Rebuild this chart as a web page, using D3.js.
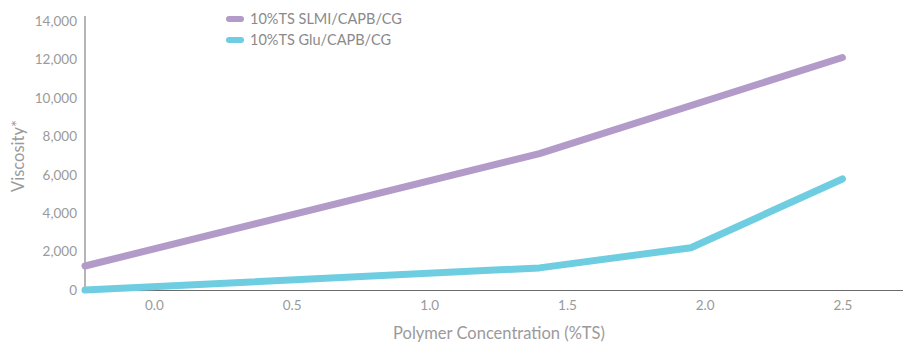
<!DOCTYPE html>
<html>
<head>
<meta charset="utf-8">
<script src="https://cdn.jsdelivr.net/npm/d3@7"></script>
<style>
  html, body { margin: 0; padding: 0; background: #fff; }
  svg { display: block; font-family: Lato, "Open Sans", sans-serif; }
</style>
</head>
<body>
<svg id="chart" width="903" height="344"></svg>
<script>
// Polymer concentration (%TS) at each measured point
const concSLMI = [-0.25, 1.4, 2.5];
const viscSLMI = [1250, 7100, 12100];
const concGlu = [-0.25, 1.4, 1.95, 2.5];
const viscGlu = [0, 1150, 2200, 5780];

const seriesNames = ["10%TS SLMI/CAPB/CG", "10%TS Glu/CAPB/CG"];
const seriesColors = ["#b39bc9", "#6ecde0"];
const xTicks = [0.0, 0.5, 1.0, 1.5, 2.0, 2.5];
const yTicks = [0, 2000, 4000, 6000, 8000, 10000, 12000, 14000];

const svg = d3.select("#chart");
const plotLeft = 85, plotRight = 903, plotTop = 21, plotBottom = 290;

const x = d3.scaleLinear().domain([-0.25, 2.72]).range([plotLeft, plotRight]);
const y = d3.scaleLinear().domain([0, 14000]).range([plotBottom, plotTop]);

const axisColor = "#6b6b6b";
const textColor = "#9a9a9a";

// axes
const xAxis = svg.append("g")
  .attr("transform", `translate(0,${plotBottom})`)
  .call(d3.axisBottom(x).tickValues(xTicks).tickSize(0).tickPadding(10)
    .tickFormat(d3.format(".1f")));
xAxis.select(".domain").attr("stroke", axisColor).attr("stroke-width", 1);

const yAxis = svg.append("g")
  .attr("transform", `translate(${plotLeft},0)`)
  .call(d3.axisLeft(y).tickValues(yTicks).tickSize(0).tickPadding(8)
    .tickFormat(d3.format(",")));
yAxis.select(".domain").attr("stroke", axisColor).attr("stroke-width", 1)
  .attr("d", `M0,${plotBottom}V${plotTop - 5}`);

svg.selectAll(".tick text")
  .attr("fill", textColor)
  .style("font-size", "13.5px")
  .style("font-family", "Lato, 'Open Sans', sans-serif");

// axis titles
svg.append("text")
  .attr("x", 499).attr("y", 339)
  .attr("text-anchor", "middle")
  .attr("fill", textColor)
  .style("font-size", "16.5px")
  .text("Polymer Concentration (%TS)");

svg.append("text")
  .attr("transform", "translate(24,156) rotate(-90)")
  .attr("text-anchor", "middle")
  .attr("fill", textColor)
  .style("font-size", "16.5px")
  .text("Viscosity*");

// series lines
const line = d3.line()
  .x(d => x(d[0]))
  .y(d => y(d[1]));

const series = [
  d3.zip(concSLMI, viscSLMI),
  d3.zip(concGlu, viscGlu)
];

svg.selectAll("path.series")
  .data(series)
  .join("path")
  .attr("class", "series")
  .attr("d", line)
  .attr("fill", "none")
  .attr("stroke", (d, i) => seriesColors[i])
  .attr("stroke-width", 7)
  .attr("stroke-linecap", "round")
  .attr("stroke-linejoin", "round");

// legend
const legend = svg.append("g").attr("transform", "translate(229,19)");
seriesNames.forEach((name, i) => {
  const g = legend.append("g").attr("transform", `translate(0,${i * 21})`);
  g.append("line")
    .attr("x1", 0).attr("x2", 12).attr("y1", 0).attr("y2", 0)
    .attr("stroke", seriesColors[i])
    .attr("stroke-width", 6)
    .attr("stroke-linecap", "round");
  g.append("text")
    .attr("x", 21).attr("y", 5)
    .attr("fill", "#8a8a8a")
    .style("font-size", "14.5px")
    .text(name);
});
</script>
</body>
</html>
